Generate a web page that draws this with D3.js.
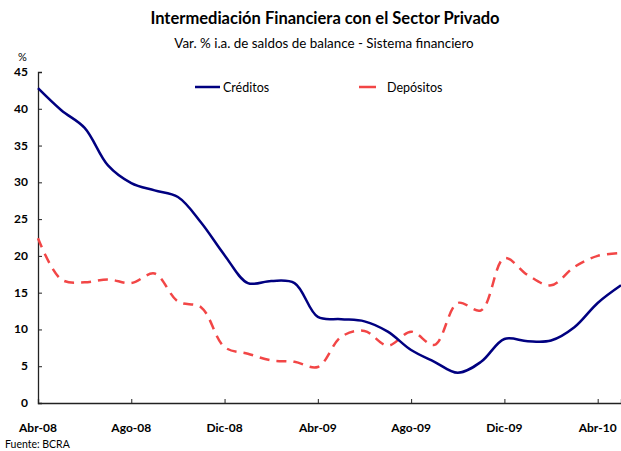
<!DOCTYPE html>
<html lang="es">
<head>
<meta charset="UTF-8">
<title>Intermediación Financiera</title>
<script src="https://cdn.jsdelivr.net/npm/d3@7"></script>
<style>
  body { margin: 0; background: #fff; }
  svg text { font-family: Lato, 'Open Sans', sans-serif; fill: #000; }
  .tick-lbl { font-weight: bold; font-size: 12px; }
</style>
</head>
<body>
<script>
// monthly, Abr-08 .. May-10
var months = d3.range(0, 26);
var creditos = [42.8, 39.8, 37.4, 32.3, 29.9, 28.9, 28.0, 24.5, 20.1, 16.3, 16.6, 16.3,
                11.7, 11.4, 11.1, 9.7, 7.2, 5.6, 4.1, 5.6, 8.7, 8.4, 8.5, 10.3, 13.6, 16.0];
var depositos = [22.4, 16.8, 16.4, 16.8, 16.3, 17.6, 13.8, 13.0, 7.6, 6.7, 5.8, 5.6,
                 4.9, 9.0, 9.8, 7.8, 9.7, 7.9, 13.6, 12.6, 19.7, 17.4, 16.0, 18.5, 20.0, 20.4];
var xTicks = [0, 4, 8, 12, 16, 20, 24];
var xLabels = ["Abr-08", "Ago-08", "Dic-08", "Abr-09", "Ago-09", "Dic-09", "Abr-10"];
var yTicks = [0, 5, 10, 15, 20, 25, 30, 35, 40, 45];

var width = 621, height = 451;
var svg = d3.select("body").append("svg")
    .attr("width", width)
    .attr("height", height);

var x = d3.scaleLinear().domain([0, 25]).range([38, 621]);
var y = d3.scaleLinear().domain([0, 45]).range([403, 72]);

// titles
svg.append("text").attr("x", 325).attr("y", 24).attr("text-anchor", "middle")
    .style("font-weight", "bold").style("font-size", "16.5px")
    .text("Intermediación Financiera con el Sector Privado");
svg.append("text").attr("x", 324).attr("y", 48).attr("text-anchor", "middle")
    .style("font-size", "13.4px")
    .text("Var. % i.a. de saldos de balance - Sistema financiero");
svg.append("text").attr("x", 18).attr("y", 61).style("font-size", "11px").text("%");

// y axis
var yAxis = svg.append("g").attr("transform", "translate(38,0)")
    .call(d3.axisRight(y).tickValues(yTicks).tickSize(4).tickFormat(""));
yAxis.select(".domain").attr("stroke", "#222").attr("stroke-width", 1.3);
yAxis.selectAll(".tick line").attr("stroke", "#222");
svg.selectAll(".ylbl").data(yTicks).join("text")
    .attr("class", "tick-lbl")
    .attr("x", 28).attr("y", function (d) { return y(d) + 4; })
    .attr("text-anchor", "end")
    .text(function (d) { return d; });

// x axis
var xAxis = svg.append("g").attr("transform", "translate(0,403)")
    .call(d3.axisTop(x).tickValues(xTicks.slice(1)).tickSize(4).tickFormat(""));
xAxis.select(".domain").attr("stroke", "#222").attr("stroke-width", 1.3);
xAxis.selectAll(".tick line").attr("stroke", "#222");
svg.selectAll(".xlbl").data(xTicks).join("text")
    .attr("class", "tick-lbl")
    .attr("x", function (d) { return x(d); }).attr("y", 432)
    .attr("text-anchor", "middle")
    .text(function (d, i) { return xLabels[i]; });

svg.append("text").attr("x", 5).attr("y", 448).style("font-size", "10.5px").text("Fuente: BCRA");

// lines
var line = function (vals) {
    return d3.line()
        .x(function (d) { return x(d); })
        .y(function (d) { return y(vals[d]); })
        .curve(d3.curveCatmullRom.alpha(0.5))(months);
};
svg.append("path").attr("d", line(depositos))
    .attr("fill", "none").attr("stroke", "#f24646").attr("stroke-width", 2.5)
    .attr("stroke-dasharray", "10,7");
svg.append("path").attr("d", line(creditos))
    .attr("fill", "none").attr("stroke", "#000080").attr("stroke-width", 2.5);

// legend
svg.append("line").attr("x1", 195).attr("x2", 220).attr("y1", 87).attr("y2", 87)
    .attr("stroke", "#000080").attr("stroke-width", 2.5);
svg.append("text").attr("x", 223).attr("y", 92).style("font-size", "12.5px").text("Créditos");
svg.append("line").attr("x1", 359).attr("x2", 376).attr("y1", 87).attr("y2", 87)
    .attr("stroke", "#f24646").attr("stroke-width", 2.5);
svg.append("text").attr("x", 387).attr("y", 92).style("font-size", "12.5px").text("Depósitos");
</script>
</body>
</html>
